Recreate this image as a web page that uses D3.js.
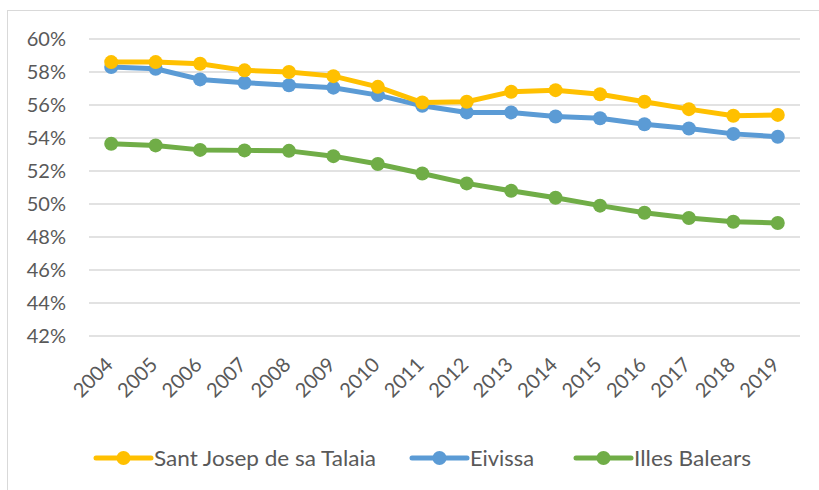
<!DOCTYPE html>
<html>
<head>
<meta charset="utf-8">
<script src="https://cdn.jsdelivr.net/npm/d3@7"></script>
<style>
  body { margin: 0; background: #fff; }
  svg { display: block; font-family: Lato, "Open Sans", sans-serif; }
</style>
</head>
<body>
<svg id="chart" width="819" height="490"></svg>
<script>
// Datos (porcentajes)
const years = ["2004","2005","2006","2007","2008","2009","2010","2011","2012","2013","2014","2015","2016","2017","2018","2019"];
const santJosep = [58.6, 58.6, 58.5, 58.1, 58.0, 57.75, 57.1, 56.15, 56.2, 56.8, 56.9, 56.65, 56.2, 55.75, 55.35, 55.4];
const eivissa = [58.3, 58.2, 57.55, 57.35, 57.2, 57.05, 56.6, 55.95, 55.55, 55.55, 55.3, 55.2, 54.83, 54.58, 54.25, 54.08];
const illesBalears = [53.65, 53.55, 53.28, 53.25, 53.22, 52.9, 52.42, 51.85, 51.25, 50.8, 50.38, 49.9, 49.47, 49.15, 48.92, 48.85];
const yTicks = [42, 44, 46, 48, 50, 52, 54, 56, 58, 60];
const seriesNames = ["Sant Josep de sa Talaia", "Eivissa", "Illes Balears"];
const colors = ["#ffc000", "#5b9bd5", "#70ad47"];

const svg = d3.select("#chart");
const margin = {left: 89, right: 20, top: 39, bottom: 154};
const w = 800 - margin.left;
const h = 336 - margin.top;

// Borde exterior
svg.append("rect")
    .attr("x", 7.5).attr("y", 10.5)
    .attr("width", 830).attr("height", 500)
    .attr("fill", "none")
    .attr("stroke", "#d9d9d9")
    .attr("stroke-width", 1);

const g = svg.append("g").attr("transform", `translate(${margin.left},${margin.top})`);

const x = d3.scaleBand().domain(years).range([0, w]);
const y = d3.scaleLinear().domain([42, 60]).range([h, 0]);

// Líneas de cuadrícula
g.selectAll(".grid")
    .data(yTicks)
    .enter()
    .append("line")
    .attr("x1", 0).attr("x2", w)
    .attr("y1", d => y(d)).attr("y2", d => y(d))
    .attr("stroke", "#d9d9d9")
    .attr("stroke-width", 1.5);

// Eje Y
g.selectAll(".ylab")
    .data(yTicks)
    .enter()
    .append("text")
    .attr("x", -23)
    .attr("y", d => y(d))
    .attr("dy", "0.36em")
    .attr("text-anchor", "end")
    .attr("font-size", "20px")
    .attr("fill", "#595959")
    .text(d => d + "%");

// Eje X (etiquetas rotadas)
g.selectAll(".xlab")
    .data(years)
    .enter()
    .append("text")
    .attr("transform", d => `translate(${x(d) + x.bandwidth() / 2 + 3},${h + 30}) rotate(-45)`)
    .attr("text-anchor", "end")
    .attr("font-size", "20px")
    .attr("fill", "#595959")
    .text(d => d);

const allSeries = [santJosep, eivissa, illesBalears];
const line = d3.line()
    .x((d, i) => x(years[i]) + x.bandwidth() / 2)
    .y(d => y(d));

// Dibujar en orden inverso para que Sant Josep quede debajo
[2, 1, 0].forEach(k => {
    const vals = allSeries[k];
    g.append("path")
        .datum(vals)
        .attr("d", line)
        .attr("fill", "none")
        .attr("stroke", colors[k])
        .attr("stroke-width", 5)
        .attr("stroke-linejoin", "round");
    g.selectAll(".pt" + k)
        .data(vals)
        .enter()
        .append("circle")
        .attr("cx", (d, i) => x(years[i]) + x.bandwidth() / 2)
        .attr("cy", d => y(d))
        .attr("r", 7)
        .attr("fill", colors[k]);
});

// Leyenda
const legendX = [96, 412, 576];
const legendW = [222, 64, 117];
const legend = svg.append("g");
seriesNames.forEach((name, k) => {
    const lg = legend.append("g").attr("transform", `translate(${legendX[k]},458)`);
    lg.append("line")
        .attr("x1", 0).attr("x2", 55)
        .attr("stroke", colors[k])
        .attr("stroke-width", 5)
        .attr("stroke-linecap", "round");
    lg.append("circle")
        .attr("cx", 27.5).attr("r", 7)
        .attr("fill", colors[k]);
    lg.append("text")
        .attr("x", 58)
        .attr("dy", "0.36em")
        .attr("font-size", "21px")
        .attr("fill", "#595959")
        .attr("textLength", legendW[k])
        .attr("lengthAdjust", "spacingAndGlyphs")
        .text(name);
});
</script>
</body>
</html>
